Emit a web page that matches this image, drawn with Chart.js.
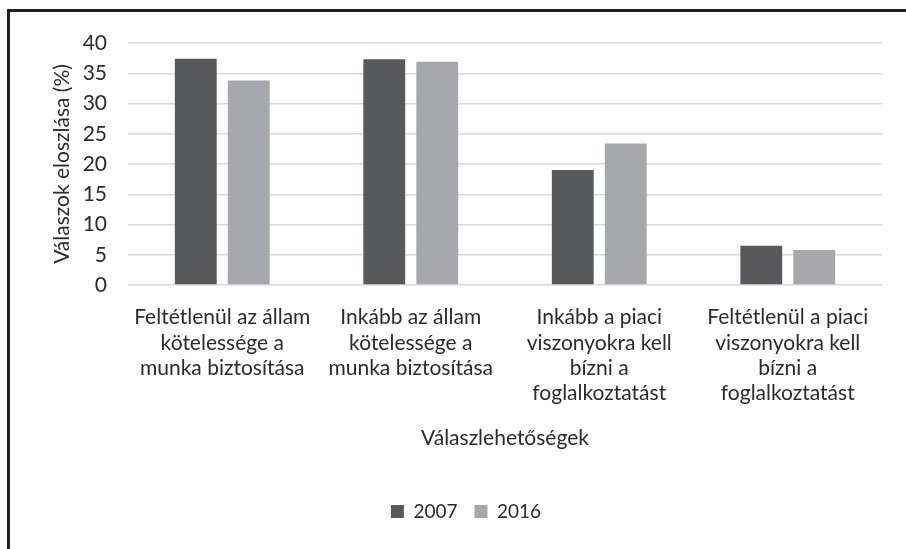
<!DOCTYPE html>
<html>
<head>
<meta charset="utf-8">
<script src="https://cdn.jsdelivr.net/npm/chart.js@4"></script>
<style>
  html, body { margin: 0; padding: 0; background: #fff; overflow: hidden; }
  #frame { position: absolute; left: 7px; top: 9px; width: 920px; height: 560px; border: 3px solid #222; }
  #chart { position: absolute; left: 0; top: 0; }
</style>
</head>
<body>
<div id="frame"></div>
<canvas id="chart" width="906" height="549"></canvas>
<script>
const categories = [
    ["Feltétlenül az állam", "kötelessége a", "munka biztosítása"],
    ["Inkább az állam", "kötelessége a", "munka biztosítása"],
    ["Inkább a piaci", "viszonyokra kell", "bízni a", "foglalkoztatást"],
    ["Feltétlenül a piaci", "viszonyokra kell", "bízni a", "foglalkoztatást"]
];
const data2007 = [37.4, 37.3, 19.0, 6.5];
const data2016 = [33.8, 36.9, 23.4, 5.8];
const yTicks = [0, 5, 10, 15, 20, 25, 30, 35, 40];

const textColor = '#2b2b2b';
const fontFamily = 'Lato, "Open Sans", sans-serif';

const chart = new Chart(document.getElementById("chart"), {
    type: 'bar',
    data: {
        labels: categories,
        datasets: [{
            label: '2007',
            data: data2007,
            backgroundColor: '#58595b'
        }, {
            label: '2016',
            data: data2016,
            backgroundColor: '#a7a8ab'
        }]
    },
    options: {
        responsive: false,
        animation: false,
        layout: { padding: { left: 50, right: 24, top: 43, bottom: 18 } },
        datasets: {
            bar: { categoryPercentage: 0.562, barPercentage: 0.79 }
        },
        scales: {
            x: {
                grid: { display: false },
                border: { display: false },
                ticks: {
                    color: textColor,
                    font: { family: fontFamily, size: 21, lineHeight: 1.2 },
                    padding: 12,
                    maxRotation: 0,
                    autoSkip: false
                },
                title: {
                    display: true,
                    text: 'Válaszlehetőségek',
                    color: textColor,
                    font: { family: fontFamily, size: 21 },
                    padding: { top: 0, bottom: 34 }
                },
                afterFit: s => { s.height = 200; }
            },
            y: {
                min: 0,
                max: 40,
                afterBuildTicks: s => { s.ticks = yTicks.map(v => ({ value: v })); },
                grid: { color: '#d9d9d9', lineWidth: 1.5, drawTicks: false },
                border: { display: false },
                ticks: {
                    color: textColor,
                    font: { family: fontFamily, size: 21 },
                    padding: 21
                },
                title: {
                    display: true,
                    text: 'Válaszok eloszlása (%)',
                    color: textColor,
                    font: { family: fontFamily, size: 21 },
                    padding: { top: 0, bottom: 10 }
                },
                afterFit: s => { s.width = 78; }
            }
        },
        plugins: {
            legend: {
                position: 'bottom',
                labels: {
                    color: textColor,
                    font: { family: fontFamily, size: 19 },
                    boxWidth: 13,
                    boxHeight: 13,
                    padding: 17
                }
            },
            tooltip: { enabled: false }
        }
    }
});
</script>
</body>
</html>
